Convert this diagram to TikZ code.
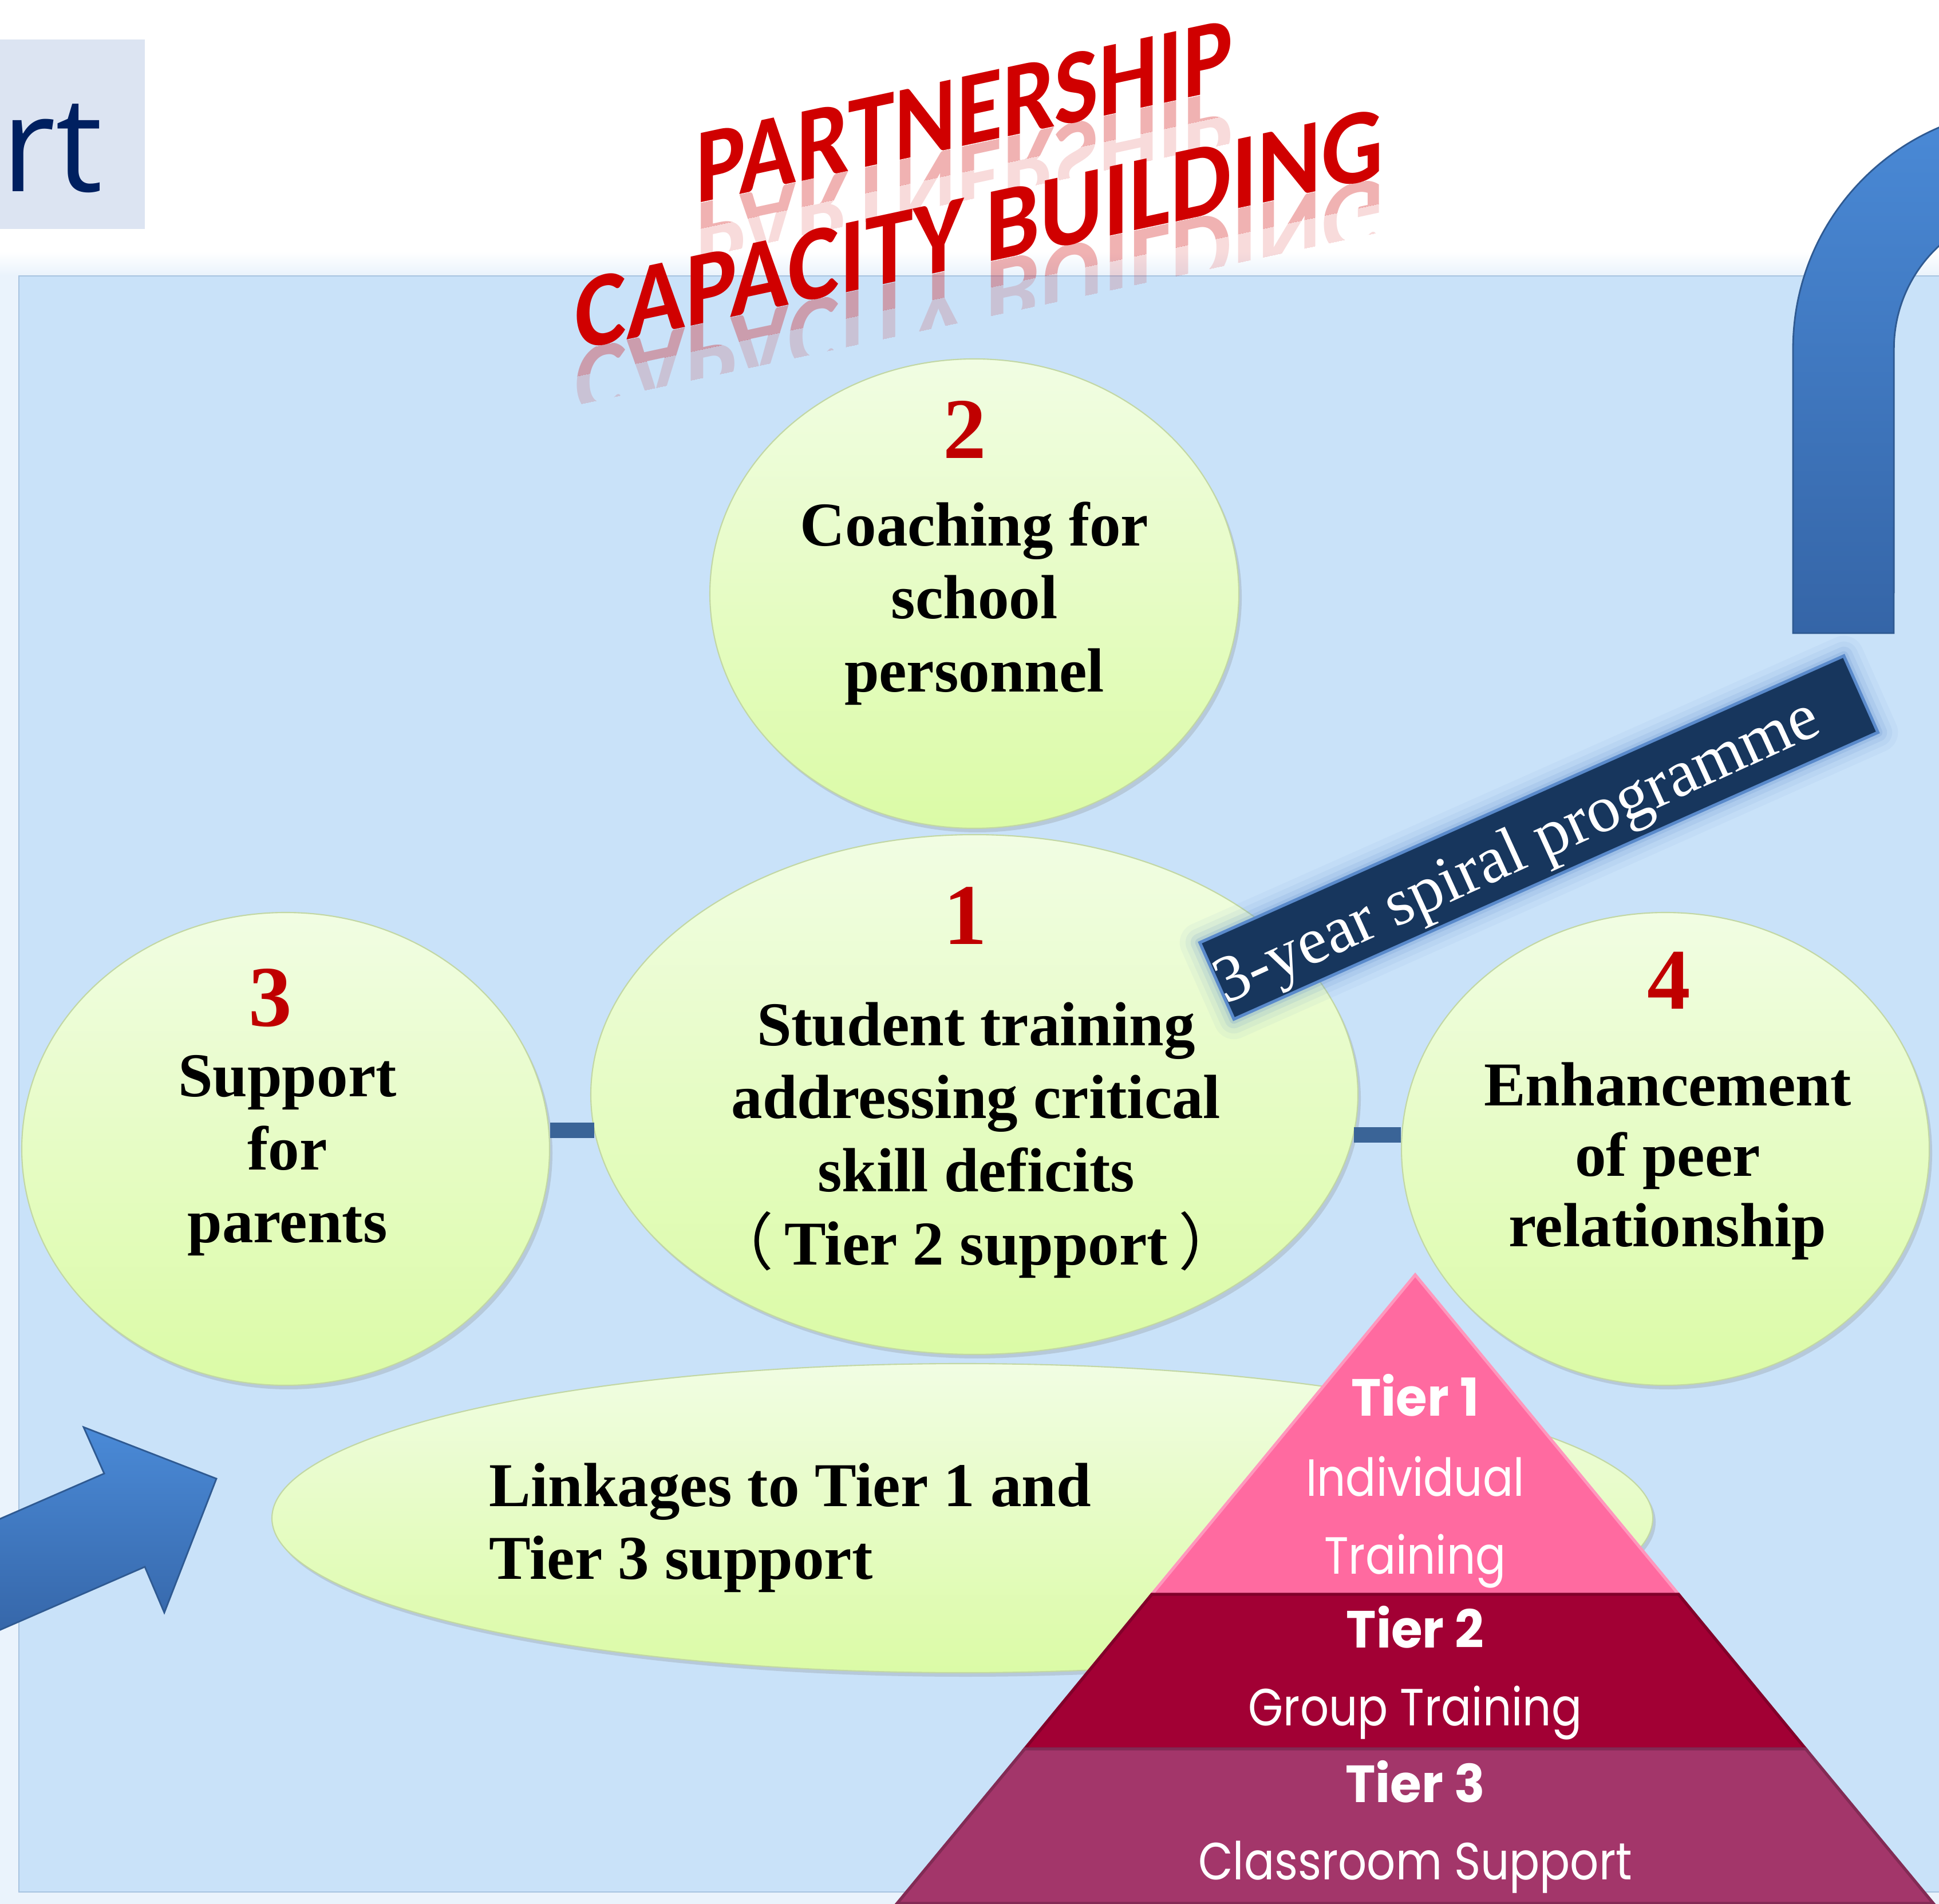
\documentclass[tikz,border=0pt]{standalone}
\usepackage{fontspec}
\usepackage{xcolor}
\usepackage{tikz}
\usetikzlibrary{shapes.geometric}
\usetikzlibrary{shadows}
\setmainfont{Liberation Serif}
\newfontfamily\titlefont{Carlito}
\newfontfamily\tierfont[FakeStretch=0.86, BoldFeatures={FakeStretch=0.97}]{Poppins}
\newfontfamily\navfont{Open Sans}
\newfontfamily\cjkfont{Noto Sans CJK SC}

\definecolor{panelblue}{HTML}{C9E2F9}
\definecolor{glowblue}{HTML}{EAF3FC}
\definecolor{paneledge}{HTML}{A7C3E0}
\definecolor{bubbletop}{HTML}{F1FDE3}
\definecolor{bubblebot}{HTML}{DBFBA6}
\definecolor{bubbleedge}{HTML}{C2D7A4}
\definecolor{numred}{HTML}{C00000}
\definecolor{barblue}{HTML}{3A6497}
\definecolor{bannernavy}{HTML}{17365D}
\definecolor{banneredge}{HTML}{5A8ACB}
\definecolor{arrowtop}{HTML}{4A8AD7}
\definecolor{arrowbot}{HTML}{3565A7}
\definecolor{arrowedge}{HTML}{2F5A92}
\definecolor{tierone}{HTML}{FF6AA0}
\definecolor{tiertwo}{HTML}{A20034}
\definecolor{tierthree}{HTML}{A3366A}
\definecolor{titlered}{HTML}{D00000}
\definecolor{navbox}{HTML}{DCE4F2}
\definecolor{navtext}{HTML}{002060}

\begin{document}
\begin{tikzpicture}[
    bubble/.style={ellipse, inner sep=0pt, top color=bubbletop, bottom color=bubblebot,
        draw=bubbleedge, line width=0.6pt,
        drop shadow={shadow xshift=0.05cm, shadow yshift=-0.07cm, opacity=0.25}},
    bubbletext/.style={font=\fontsize{31}{36.3}\selectfont\bfseries, align=center,
        inner sep=0pt, anchor=north},
    number/.style={font=\fontsize{43}{50}\selectfont\bfseries, text=numred,
        inner sep=0pt, anchor=base},
    link/.style={draw=barblue, line width=0.27cm},
    titletext/.style={font=\titlefont\bfseries\fontsize{53}{60}\selectfont, text=titlered,
        anchor=base west, inner sep=0pt, transform shape},
    tierlabel/.style={text=white, inner sep=0pt, anchor=base},
    bigarrow/.style={top color=arrowtop, bottom color=arrowbot, draw=arrowedge, line width=0.8pt},
  ]
    \useasboundingbox (0,0) rectangle (33.87,33.25);
    \clip (0,0) rectangle (33.87,33.25);

    %%% BACKGROUND %%%
    \fill[white] (0,0) rectangle (33.87,33.25);
    \fill[navbox] (0,29.25) rectangle (2.53,32.56);
    \node[anchor=base east, inner sep=0pt, text=navtext,
          font=\navfont\fontsize{66}{70}\selectfont] (rt) at (1.80,29.90) {rt};
    \shade[top color=white, bottom color=glowblue] (0,28.43) rectangle (35,28.85);
    \fill[glowblue] (0,-1) rectangle (35,28.43);
    \fill[panelblue] (0.33,0.20) rectangle (35,28.43);
    \draw[paneledge] (35,0.20) -- (0.33,0.20) -- (0.33,28.43) -- (35,28.43);

    %%% TITLE %%%
    \foreach \lo/\hi/\op in {0/-0.45/0.30, -0.45/-0.95/0.14} {
        \begin{scope}[shift={(12.15,29.69)}, yslant=0.215]
            \clip (-0.3,\lo) rectangle (11,\hi);
            \node[titletext, xscale=0.88, yscale=-1, opacity=\op] (ptr) at (0,0) {PARTNERSHIP};
        \end{scope}
        \begin{scope}[shift={(10.04,27.12)}, yslant=0.215]
            \clip (-0.3,\lo) rectangle (15,\hi);
            \node[titletext, xscale=0.91, yscale=-1, opacity=\op] (cbr) at (0,0) {CAPACITY BUILDING};
        \end{scope}
    }
    \begin{scope}[shift={(12.15,29.69)}, yslant=0.215]
        \node[titletext, xscale=0.88] (pt) at (0,0) {PARTNERSHIP};
    \end{scope}
    \begin{scope}[shift={(10.04,27.12)}, yslant=0.215]
        \node[titletext, xscale=0.91] (cb) at (0,0) {CAPACITY BUILDING};
    \end{scope}

    %%% CURVED ARROW %%%
    \draw[bigarrow] (31.32,22.19) -- (31.32,27.16) arc[start angle=180, end angle=95, radius=4.20]
        -- (35.31,29.59) arc[start angle=95, end angle=180, radius=2.44] -- (33.08,22.19) -- cycle;

    %%% BUBBLES %%%
    \node[bubble, minimum width=9.24cm, minimum height=8.20cm] (e2) at (17.02,22.88) {};
    \node[bubble, minimum width=13.40cm, minimum height=9.08cm] (e1) at (17.02,14.13) {};
    \node[bubble, minimum width=9.22cm, minimum height=8.26cm] (e3) at (4.99,13.18) {};
    \node[bubble, minimum width=9.22cm, minimum height=8.26cm] (e4) at (29.09,13.18) {};
    \node[bubble, minimum width=24.12cm, minimum height=5.40cm] (el) at (16.81,6.73) {};

    %%% LINKS %%%
    \coordinate (lbar) at (0,13.50);
    \coordinate (rbar) at (0,13.42);
    \draw[link, shorten >=-0.07cm] (e3.east |- lbar) -- (e1.west |- lbar);
    \draw[link, shorten <=-0.08cm] (e1.east |- rbar) -- (e4.west |- rbar);

    %%% BUBBLE TEXTS %%%
    \node[number] (n2) at (16.85,25.24) {2};
    \node[bubbletext] (t2) at (17.02,24.49) {Coaching for\\school\\personnel};
    \node[number] (n1) at (16.86,16.75) {1};
    \node[bubbletext] (t1) at (17.05,15.75)
        {Student training\\addressing critical\\skill deficits\\{\cjkfont\mdseries （}\,Tier 2 support\,{\cjkfont\mdseries ）}};
    \node[number] (n3) at (4.72,15.32) {3};
    \node[bubbletext] (t3) at (5.02,14.82) {Support\\for\\parents};
    \node[number] (n4) at (29.15,15.62) {4};
    \node[bubbletext, font=\fontsize{31}{35}\selectfont\bfseries] (t4) at (29.13,14.70) {Enhancement\\of peer\\relationship};
    \node[bubbletext, align=left, anchor=north west] (tl) at (8.54,7.70) {Linkages to Tier 1 and\\Tier 3 support};

    %%% BANNER %%%
    \path node[rotate=24, minimum width=12.3cm, minimum height=1.45cm, inner sep=0pt] (bn) at (26.88,18.62) {};
    \foreach \w/\o in {0.70/0.06, 0.50/0.08, 0.32/0.12, 0.16/0.18}
        \draw[banneredge, line width=\w cm, opacity=\o, line join=round]
            (bn.north west) -- (bn.north east) -- (bn.south east) -- (bn.south west) -- cycle;
    \filldraw[fill=bannernavy, draw=banneredge, line width=1.5pt]
        (bn.north west) -- (bn.north east) -- (bn.south east) -- (bn.south west) -- cycle;
    \node[rotate=24.5, text=white, inner sep=0pt, font=\fontsize{33}{38}\selectfont] (bt) at (26.52,18.33) {3-year spiral programme};

    %%% PYRAMID %%%
    \coordinate (apex) at (24.72,10.98);
    \coordinate (a1) at (20.12,5.40);
    \coordinate (b1) at (29.32,5.40);
    \coordinate (a2) at (17.90,2.70);
    \coordinate (b2) at (31.54,2.70);
    \coordinate (a3) at (15.67,0);
    \coordinate (b3) at (33.77,0);
    \filldraw[fill=tierone, draw=tierone!70!white, line width=1.5pt] (apex) -- (b1) -- (a1) -- cycle;
    \filldraw[fill=tiertwo, draw=tiertwo!80!black, line width=1.5pt] (a1) -- (b1) -- (b2) -- (a2) -- cycle;
    \filldraw[fill=tierthree, draw=tierthree!80!black, line width=1.5pt] (a2) -- (b2) -- (b3) -- (a3) -- cycle;
    \foreach \y/\txt/\wt [count=\i] in {8.52/Tier 1/\bfseries, 7.12/Individual/\mdseries,
            5.76/Training/\mdseries, 4.47/Tier 2/\bfseries, 3.11/Group Training/\mdseries,
            1.77/Tier 3/\bfseries, 0.42/Classroom Support/\mdseries}
        \node[tierlabel, font=\tierfont\wt\fontsize{26}{30}\selectfont] (tier\i) at (24.72,\y) {\txt};

    %%% STRAIGHT ARROW %%%
    \draw[bigarrow] (-0.5,6.50) -- (1.82,7.51) -- (1.46,8.32) -- (3.78,7.42)
        -- (2.87,5.08) -- (2.53,5.88) -- (-0.5,4.56) -- cycle;
\end{tikzpicture}
\end{document}
